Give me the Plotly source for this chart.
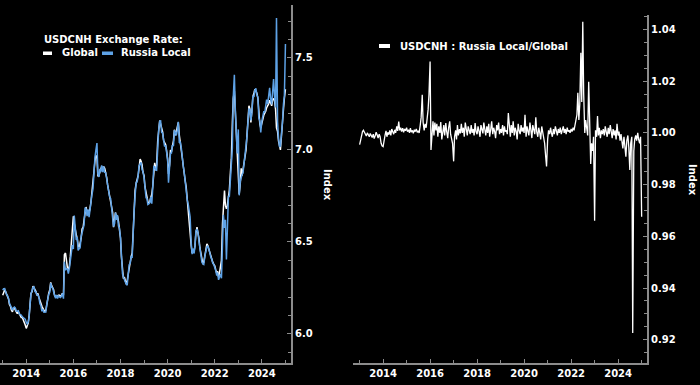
import plotly.graph_objects as go
import pandas as pd

# ---------------- data (semi-monthly, 2013-01-01 .. 2025-01-01) ----------------
dates = pd.date_range("2013-01-01", periods=289, freq="SMS")

global_rate = [
    # 2013
    6.21, 6.23, 6.24, 6.23, 6.22, 6.21, 6.19, 6.16, 6.15, 6.13, 6.12, 6.14,
    6.14, 6.13, 6.12, 6.11, 6.12, 6.11, 6.10, 6.09, 6.09, 6.08, 6.06, 6.05,
    # 2014
    6.03, 6.04, 6.06, 6.10, 6.15, 6.22, 6.23, 6.26, 6.25, 6.24, 6.23, 6.21,
    6.22, 6.20, 6.18, 6.16, 6.15, 6.14, 6.13, 6.12, 6.13, 6.16, 6.20, 6.22,
    # 2015
    6.24, 6.28, 6.26, 6.25, 6.24, 6.21, 6.20, 6.21, 6.20, 6.21, 6.21, 6.20,
    6.21, 6.22, 6.21, 6.43, 6.44, 6.38, 6.36, 6.35, 6.37, 6.42, 6.50, 6.58,
    # 2016
    6.64, 6.60, 6.56, 6.54, 6.52, 6.48, 6.47, 6.49, 6.52, 6.57, 6.58, 6.62,
    6.67, 6.69, 6.66, 6.67, 6.66, 6.68, 6.72, 6.77, 6.82, 6.91, 6.94, 6.97,
    # 2017
    6.96, 6.86, 6.86, 6.88, 6.90, 6.91, 6.89, 6.91, 6.90, 6.88, 6.85, 6.81,
    6.78, 6.75, 6.73, 6.70, 6.66, 6.58, 6.62, 6.66, 6.63, 6.64, 6.61, 6.58,
    # 2018
    6.52, 6.42, 6.33, 6.30, 6.31, 6.29, 6.27, 6.29, 6.33, 6.37, 6.40, 6.42,
    6.44, 6.55, 6.68, 6.78, 6.82, 6.84, 6.86, 6.90, 6.95, 6.94, 6.92, 6.88,
    # 2019
    6.86, 6.80, 6.76, 6.73, 6.72, 6.71, 6.72, 6.74, 6.76, 6.80, 6.90, 6.93,
    6.89, 6.92, 7.05, 7.12, 7.16, 7.14, 7.12, 7.10, 7.05, 7.04, 7.03, 7.00,
    # 2020
    6.95, 6.87, 6.92, 7.00, 6.99, 7.02, 7.05, 7.11, 7.08, 7.10, 7.12, 7.15,
    7.08, 7.05, 7.00, 6.96, 6.91, 6.86, 6.83, 6.80, 6.72, 6.68, 6.60, 6.55,
    # 2021
    6.48, 6.44, 6.46, 6.45, 6.48, 6.55, 6.58, 6.55, 6.52, 6.47, 6.43, 6.40,
    6.38, 6.39, 6.42, 6.46, 6.49, 6.48, 6.46, 6.44, 6.43, 6.41, 6.39, 6.38,
    # 2022
    6.37, 6.35, 6.33, 6.34, 6.31, 6.33, 6.37, 6.40, 6.60, 6.72, 6.78, 6.70,
    6.68, 6.70, 6.75, 6.78, 6.88, 6.95, 7.15, 7.28, 7.32, 7.20, 7.05, 6.97,
    # 2023
    6.87, 6.76, 6.82, 6.90, 6.86, 6.89, 6.92, 6.95, 7.00, 7.08, 7.15, 7.24,
    7.22, 7.15, 7.22, 7.29, 7.31, 7.33, 7.32, 7.31, 7.28, 7.18, 7.14, 7.12,
    # 2024
    7.15, 7.18, 7.19, 7.20, 7.21, 7.23, 7.24, 7.25, 7.27, 7.26, 7.24, 7.27,
    7.28, 7.27, 7.22, 7.12, 7.10, 7.05, 7.01, 7.00, 7.08, 7.13, 7.22, 7.28,
    # 2025
    7.33,
]

ratio = [
    # 2013
    0.9955, 0.9975, 0.9990, 1.0005, 1.0010, 1.0002, 0.9995, 0.9988, 1.0000, 0.9992, 0.9985, 0.9998,
    0.9990, 0.9982, 0.9995, 0.9978, 0.9990, 1.0003, 0.9992, 0.9980, 0.9995, 0.9985, 0.9960, 0.9950,
    # 2014
    0.9947, 0.9975, 0.9992, 1.0008, 0.9985, 1.0002, 0.9993, 1.0010, 0.9990, 1.0015, 1.0003, 0.9995,
    1.0012, 1.0000, 1.0025, 1.0008, 1.0044, 1.0010, 1.0020, 1.0005, 1.0018, 1.0002, 1.0015, 1.0008,
    # 2015
    1.0020, 1.0005, 1.0012, 1.0000, 1.0018, 1.0003, 1.0010, 0.9998, 1.0012, 1.0005, 1.0015, 1.0002,
    1.0008, 1.0000, 1.0030, 1.0060, 1.0147, 1.0040, 1.0010, 1.0035, 1.0020, 1.0050, 1.0090, 1.0150,
    # 2016
    1.0276, 0.9934, 1.0020, 1.0045, 0.9990, 1.0040, 1.0010, 1.0035, 0.9985, 1.0025, 1.0000, 1.0042,
    0.9975, 1.0015, 1.0030, 0.9990, 1.0038, 1.0005, 0.9980, 1.0020, 1.0045, 0.9995, 0.9970, 0.9960,
    # 2017
    0.9890, 0.9985, 1.0010, 0.9975, 1.0030, 0.9990, 1.0015, 0.9998, 1.0035, 1.0000, 1.0020, 0.9985,
    1.0040, 1.0005, 0.9990, 1.0025, 1.0010, 0.9995, 1.0030, 1.0000, 1.0015, 0.9990, 1.0038, 1.0005,
    # 2018
    0.9995, 1.0025, 1.0005, 0.9985, 1.0030, 1.0010, 0.9998, 1.0040, 1.0005, 0.9990, 1.0025, 1.0000,
    1.0035, 0.9985, 1.0015, 1.0045, 0.9995, 1.0020, 1.0005, 0.9980, 1.0030, 1.0010, 1.0040, 0.9995,
    # 2019
    1.0015, 1.0000, 1.0030, 0.9990, 1.0025, 1.0005, 1.0010, 0.9995, 1.0077, 1.0015, 0.9985, 1.0030,
    1.0000, 1.0045, 0.9990, 1.0020, 1.0005, 0.9975, 1.0035, 1.0010, 0.9995, 1.0030, 1.0005, 1.0020,
    # 2020
    1.0000, 1.0070, 0.9985, 1.0025, 1.0010, 0.9990, 1.0040, 1.0005, 0.9980, 1.0030, 1.0015, 0.9995,
    1.0060, 1.0005, 0.9985, 1.0020, 1.0000, 0.9975, 1.0025, 1.0005, 0.9990, 0.9960, 0.9910, 0.9870,
    # 2021
    0.9975, 1.0010, 0.9995, 1.0020, 1.0000, 0.9985, 1.0015, 0.9995, 1.0025, 1.0005, 0.9990, 1.0015,
    1.0000, 1.0020, 0.9995, 1.0010, 1.0025, 1.0000, 1.0015, 0.9995, 1.0020, 1.0005, 1.0010, 1.0000,
    # 2022
    1.0015, 1.0005, 1.0020, 1.0010, 1.0025, 1.0040, 1.0070, 1.0155, 1.0050, 1.0110, 1.0310, 1.0120,
    1.0430, 1.0150, 1.0000, 1.0050, 1.0020, 0.9990, 1.0198, 0.9990, 0.9880, 0.9960, 0.9930, 0.9985,
    # 2023
    0.9660, 1.0010, 0.9985, 1.0065, 0.9990, 1.0020, 0.9980, 1.0010, 0.9995, 1.0015, 0.9990, 1.0025,
    1.0000, 0.9985, 1.0020, 0.9995, 1.0030, 1.0005, 0.9980, 1.0015, 0.9990, 1.0010, 0.9975, 1.0035,
    # 2024
    0.9990, 1.0005, 0.9970, 0.9995, 0.9960, 0.9940, 0.9985, 0.9950, 0.9908, 0.9970, 0.9990, 0.9945,
    0.9857, 0.9960, 0.9985, 0.9226, 0.9930, 0.9975, 0.9990, 0.9970, 1.0000, 0.9975, 0.9960, 0.9985,
    # 2025
    0.9676,
]

russia_local = [g / r for g, r in zip(global_rate, ratio)]

left_title = "USDCNH Exchange Rate:"
left_names = ["Global", "Russia Local"]
right_name = "USDCNH : Russia Local/Global"
axis_title = "Index"

# ---------------- styling ----------------
WHITE = "#ffffff"
BLUE = "#5ea2e6"
GREY = "#8c8c8c"
FONT = "DejaVu Sans"
W, H = 700, 385


def px(x):
    return x / W


def py(y):
    return 1 - y / H


fig = go.Figure()
fig.add_trace(go.Scatter(x=dates, y=global_rate, mode="lines", name=left_names[0],
                         line=dict(color=WHITE, width=1.5), xaxis="x", yaxis="y",
                         showlegend=False))
fig.add_trace(go.Scatter(x=dates, y=russia_local, mode="lines", name=left_names[1],
                         line=dict(color=BLUE, width=1.5), xaxis="x", yaxis="y",
                         showlegend=False))
fig.add_trace(go.Scatter(x=dates, y=ratio, mode="lines", name=right_name,
                         line=dict(color=WHITE, width=1.3), xaxis="x2", yaxis="y2",
                         showlegend=False))

tickfont = dict(family=FONT, size=10, color=WHITE, weight="bold")

xcommon = dict(type="date", dtick="M24", tick0="2014-01-01", tickformat="%Y",
               ticks="inside", ticklen=4, tickwidth=1, tickcolor=GREY,
               showline=True, linecolor=GREY, linewidth=2, showgrid=False,
               zeroline=False, tickfont=tickfont,
               minor=dict(dtick="M12", tick0="2013-01-01", ticks="inside",
                          ticklen=3, tickcolor=GREY, showgrid=False))
ycommon = dict(side="right", ticks="inside", ticklen=4, tickwidth=1, tickcolor=GREY,
               showline=True, linecolor=GREY, linewidth=2, showgrid=False,
               zeroline=False, tickfont=tickfont)

fig.update_layout(
    width=W, height=H,
    margin=dict(l=0, r=0, t=0, b=0),
    paper_bgcolor="#000000", plot_bgcolor="#000000",
    xaxis=dict(domain=[0, px(291)], range=["2012-11-20", "2025-03-28"], anchor="y",
               **xcommon),
    yaxis=dict(domain=[py(363), py(5)], range=[5.842, 7.788], anchor="x",
               dtick=0.5, tick0=6.0, tickformat=".1f",
               minor=dict(dtick=0.1, ticks="inside", ticklen=3, tickcolor=GREY,
                          showgrid=False),
               **ycommon),
    xaxis2=dict(domain=[px(353), px(647)], range=["2012-09-20", "2025-03-25"],
                anchor="y2", **xcommon),
    yaxis2=dict(domain=[py(363), py(15)], range=[0.911, 1.0456], anchor="x2",
                dtick=0.02, tick0=0.92, tickformat=".2f",
                minor=dict(dtick=0.005, ticks="inside", ticklen=3, tickcolor=GREY,
                           showgrid=False),
                **ycommon),
)

lab = dict(family=FONT, size=10, color=WHITE, weight="bold")
ann = [
    dict(text=left_title, x=px(42), y=py(39), xanchor="left", yanchor="middle"),
    dict(text=left_names[0], x=px(60), y=py(53), xanchor="left", yanchor="middle"),
    dict(text=left_names[1], x=px(119), y=py(53), xanchor="left", yanchor="middle"),
    dict(text=right_name, x=px(398), y=py(46), xanchor="left", yanchor="middle"),
    dict(text=axis_title, x=px(328), y=py(185), xanchor="center", yanchor="middle",
         textangle=90),
    dict(text=axis_title, x=px(692), y=py(180), xanchor="center", yanchor="middle",
         textangle=90),
]
for a in ann:
    fig.add_annotation(xref="paper", yref="paper", showarrow=False, font=lab, **a)

swatches = [(43, 52, 51.5, 55, WHITE), (102, 113, 51.5, 55, BLUE),
            (379, 390, 44, 48, WHITE)]
for x0, x1, y0, y1, c in swatches:
    fig.add_shape(type="rect", xref="paper", yref="paper",
                  x0=px(x0), x1=px(x1), y0=py(y1), y1=py(y0),
                  fillcolor=c, line=dict(width=0))

fig.write_html(
    "out.html",
    config={"displayModeBar": False},
    post_script="document.body.style.margin='0';document.body.style.background='#000';",
)
